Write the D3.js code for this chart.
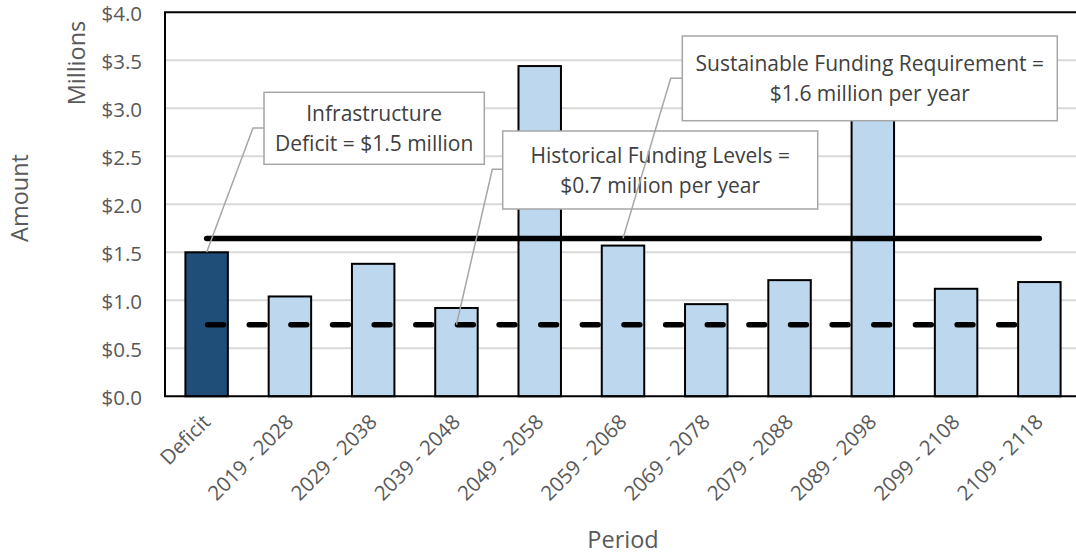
<!DOCTYPE html>
<html>
<head>
<meta charset="utf-8">
<script src="https://cdn.jsdelivr.net/npm/d3@7"></script>
<style>
  html, body { margin: 0; padding: 0; background: #fff; }
  svg { display: block; font-family: "Open Sans", "Noto Sans", sans-serif; }
</style>
</head>
<body>
<svg id="chart" width="1076" height="555"></svg>
<script>
// Ten-year capital needs, plus the current infrastructure deficit (millions of dollars)
const categories = ["Deficit", "2019 - 2028", "2029 - 2038", "2039 - 2048", "2049 - 2058",
  "2059 - 2068", "2069 - 2078", "2079 - 2088", "2089 - 2098", "2099 - 2108", "2109 - 2118"];
const amounts = [1.50, 1.04, 1.38, 0.92, 3.44, 1.57, 0.96, 1.21, 3.67, 1.12, 1.19];
const yTicks = [0, 0.5, 1.0, 1.5, 2.0, 2.5, 3.0, 3.5, 4.0];

// Annual funding reference levels (millions per year)
const sustainableFunding = 1.645;
const historicalFunding = 0.745;

const svg = d3.select("#chart");
const plotLeft = 165, plotRight = 1081, plotTop = 12.3, plotBottom = 396.3;

const x = d3.scaleBand().domain(categories).range([plotLeft, plotRight])
  .paddingInner(0.49).paddingOuter(0.245);
const y = d3.scaleLinear().domain([0, 4]).range([plotBottom, plotTop]);
const money = d3.format("$.1f");
const oneDp = d3.format(".1f");

const labelGrey = "#595959";

// horizontal gridlines
svg.append("g").selectAll("line").data(yTicks.filter(t => t > 0 && t < 4)).join("line")
  .attr("x1", plotLeft).attr("x2", plotRight)
  .attr("y1", d => y(d)).attr("y2", d => y(d))
  .attr("stroke", "#d9d9d9").attr("stroke-width", 2);

// bars
svg.append("g").selectAll("rect").data(categories).join("rect")
  .attr("x", d => x(d))
  .attr("width", x.bandwidth())
  .attr("y", (d, i) => y(amounts[i]))
  .attr("height", (d, i) => y(0) - y(amounts[i]))
  .attr("fill", (d, i) => i === 0 ? "#1f4e79" : "#bdd7ee")
  .attr("stroke", "#000").attr("stroke-width", 2);

// funding level lines, spanning first to last category centre
const cx = d => x(d) + x.bandwidth() / 2;
const firstX = cx(categories[0]), lastX = cx(categories[categories.length - 1]);
const halfStep = x.step() / 2;

svg.append("line")
  .attr("x1", firstX).attr("x2", lastX)
  .attr("y1", y(sustainableFunding)).attr("y2", y(sustainableFunding))
  .attr("stroke", "#000").attr("stroke-width", 5.5).attr("stroke-linecap", "round");

svg.append("line")
  .attr("x1", firstX + 1).attr("x2", lastX)
  .attr("y1", y(historicalFunding)).attr("y2", y(historicalFunding))
  .attr("stroke", "#000").attr("stroke-width", 5.5).attr("stroke-linecap", "round")
  .attr("stroke-dasharray", `${halfStep * 0.38} ${halfStep * 0.62}`);

// plot frame (left, top, bottom)
svg.append("path")
  .attr("d", `M${plotRight},${plotTop}H${plotLeft}V${plotBottom}H${plotRight}`)
  .attr("fill", "none").attr("stroke", "#000").attr("stroke-width", 2);

// y axis labels
svg.append("g").selectAll("text").data(yTicks).join("text")
  .attr("x", 142).attr("y", d => y(d)).attr("dy", "0.4em")
  .attr("text-anchor", "end").attr("font-size", 20.5).attr("fill", labelGrey)
  .text(d => money(d));

// x axis labels, rotated
svg.append("g").selectAll("text").data(categories).join("text")
  .attr("transform", d => `translate(${cx(d) + 5},${plotBottom + 27}) rotate(-45)`)
  .attr("text-anchor", "end").attr("font-size", 20.5).attr("fill", labelGrey)
  .text(d => d);

// axis titles
svg.append("text").attr("transform", "translate(77,63) rotate(-90)")
  .attr("text-anchor", "middle").attr("dy", "0.35em")
  .attr("font-size", 23.5).attr("fill", labelGrey).text("Millions");
svg.append("text").attr("transform", "translate(20,198) rotate(-90)")
  .attr("text-anchor", "middle").attr("dy", "0.35em")
  .attr("font-size", 23.5).attr("fill", labelGrey).text("Amount");
svg.append("text").attr("x", (plotLeft + plotRight) / 2).attr("y", 548)
  .attr("text-anchor", "middle")
  .attr("font-size", 23.5).attr("fill", labelGrey).text("Period");

// callouts: box, two lines of text, and an elbow leader to the anchor point
const callouts = [
  {
    lines: ["Infrastructure", `Deficit = ${money(amounts[0])} million`],
    box: [264, 92.3, 220.3, 72], elbowY: 128, elbowX: 253,
    anchor: [cx(categories[0]), y(amounts[0])]
  },
  {
    lines: ["Historical Funding Levels =", `$${oneDp(historicalFunding)} million per year`],
    box: [502.7, 131, 315, 78], elbowY: 169.3, elbowX: 492.3,
    anchor: [cx(categories[3]), y(historicalFunding)]
  },
  {
    lines: ["Sustainable Funding Requirement =", `$${oneDp(sustainableFunding)} million per year`],
    box: [682.3, 36, 375, 84.7], elbowY: 78.3, elbowX: 670.7,
    anchor: [cx(categories[5]), y(sustainableFunding)]
  }
];

const cg = svg.append("g");
callouts.forEach(c => {
  const [bx, by, bw, bh] = c.box;
  cg.append("polyline")
    .attr("points", `${bx},${c.elbowY} ${c.elbowX},${c.elbowY} ${c.anchor[0]},${c.anchor[1]}`)
    .attr("fill", "none").attr("stroke", "#a6a6a6").attr("stroke-width", 1.5);
  cg.append("rect").attr("x", bx).attr("y", by).attr("width", bw).attr("height", bh)
    .attr("fill", "#fff").attr("stroke", "#a6a6a6").attr("stroke-width", 1.5);
  const t = cg.append("text").attr("text-anchor", "middle")
    .attr("font-size", 21).attr("fill", "#404040");
  c.lines.forEach((line, i) => {
    t.append("tspan").attr("x", bx + bw / 2)
      .attr("y", by + bh / 2 - 7 + i * 29.5)
      .text(line);
  });
});
</script>
</body>
</html>
